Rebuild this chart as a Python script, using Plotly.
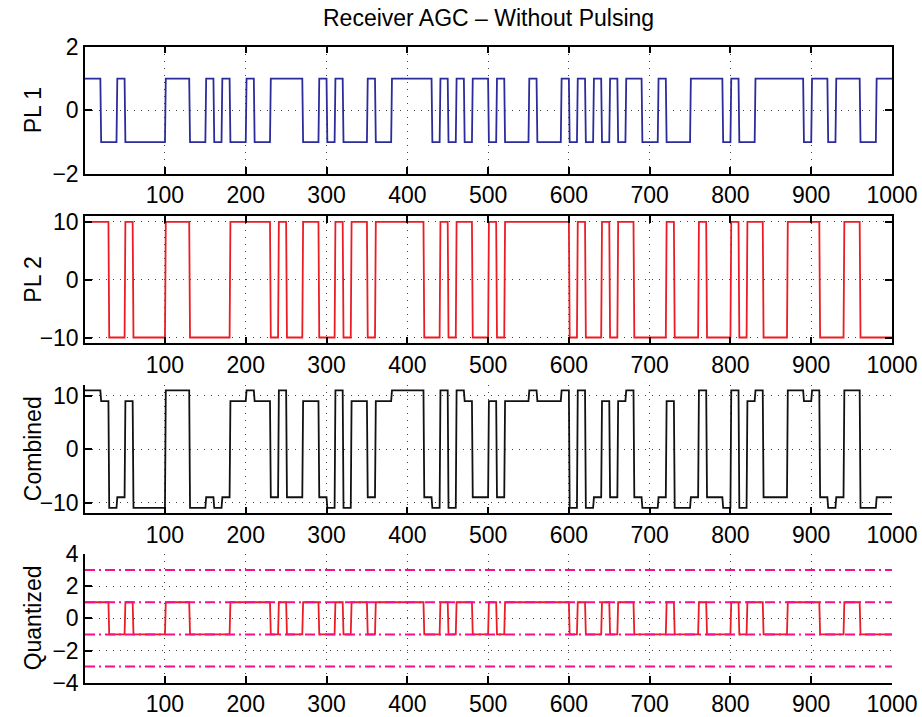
import numpy as np
import plotly.graph_objects as go

# ---- data: one value per symbol, 10 samples per symbol, 100 symbols ----
SAMPLES_PER_SYMBOL = 10

pl1_symbols = [
    1, 1, -1, -1, 1, -1, -1, -1, -1, -1,
    1, 1, 1, -1, -1, 1, -1, 1, -1, -1,
    1, -1, -1, 1, 1, 1, 1, -1, -1, 1,
    -1, 1, -1, -1, -1, 1, -1, -1, 1, 1,
    1, 1, 1, -1, 1, -1, 1, -1, 1, 1,
    -1, 1, -1, -1, -1, 1, -1, -1, -1, 1,
    -1, 1, -1, 1, -1, 1, -1, 1, 1, -1,
    -1, 1, -1, -1, -1, 1, 1, 1, 1, -1,
    1, -1, -1, 1, 1, 1, 1, 1, 1, -1,
    1, 1, -1, 1, 1, 1, -1, -1, 1, 1,
]

pl2_symbols = [
    10, 10, 10, -10, -10, 10, -10, -10, -10, -10,
    10, 10, 10, -10, -10, -10, -10, -10, 10, 10,
    10, 10, 10, -10, 10, -10, -10, 10, 10, -10,
    -10, 10, -10, 10, 10, -10, 10, 10, 10, 10,
    10, 10, -10, -10, 10, -10, 10, 10, -10, -10,
    10, -10, 10, 10, 10, 10, 10, 10, 10, 10,
    -10, 10, -10, -10, 10, -10, 10, 10, -10, -10,
    -10, -10, 10, -10, -10, -10, 10, -10, -10, -10,
    10, -10, 10, 10, -10, -10, -10, 10, 10, 10,
    10, -10, -10, -10, 10, 10, -10, -10, -10, -10,
]

combined_symbols = [
    11, 11, 9, -11, -9, 9, -11, -11, -11, -11,
    11, 11, 11, -11, -11, -9, -11, -9, 9, 9,
    11, 9, 9, -9, 11, -9, -9, 9, 9, -9,
    -11, 11, -11, 9, 9, -9, 9, 9, 11, 11,
    11, 11, -9, -11, 11, -11, 11, 9, -9, -9,
    9, -9, 9, 9, 9, 11, 9, 9, 9, 11,
    -11, 11, -11, -9, 9, -9, 9, 11, -9, -11,
    -11, -9, 9, -11, -11, -9, 11, -9, -9, -11,
    11, -11, 9, 11, -9, -9, -9, 11, 11, 9,
    11, -9, -11, -9, 11, 11, -11, -11, -9, -9,
]

quantized_symbols = [
    1, 1, 1, -1, -1, 1, -1, -1, -1, -1,
    1, 1, 1, -1, -1, -1, -1, -1, 1, 1,
    1, 1, 1, -1, 1, -1, -1, 1, 1, -1,
    -1, 1, -1, 1, 1, -1, 1, 1, 1, 1,
    1, 1, -1, -1, 1, -1, 1, 1, -1, -1,
    1, -1, 1, 1, 1, 1, 1, 1, 1, 1,
    -1, 1, -1, -1, 1, -1, 1, 1, -1, -1,
    -1, -1, 1, -1, -1, -1, 1, -1, -1, -1,
    1, -1, 1, 1, -1, -1, -1, 1, 1, 1,
    1, -1, -1, -1, 1, 1, -1, -1, -1, -1,
]

threshold_levels = [3, 1, -1, -3]
x_tick_values = [100, 200, 300, 400, 500, 600, 700, 800, 900, 1000]
x_range = [1, 1000]

# ---- sample axis ----
n_samples = len(pl1_symbols) * SAMPLES_PER_SYMBOL
x = np.arange(1, n_samples + 1)


def expand(symbols):
    return np.repeat(np.asarray(symbols, dtype=float), SAMPLES_PER_SYMBOL)


FONT = "Liberation Sans, Arial, Helvetica, sans-serif"
FS = 23
W, H = 922, 717

# panel geometry in pixels (left, right, top, bottom)
PX_L, PX_R = 85, 892
panels = [
    dict(top=46.7, bot=174.0, yrange=[-2, 2], yticks=[-2, 0, 2], box=True, label="PL 1"),
    dict(top=216.0, bot=343.3, yrange=[-11, 11], yticks=[-10, 0, 10], box=True, label="PL 2"),
    dict(top=385.0, bot=513.3, yrange=[-12, 12], yticks=[-10, 0, 10], box=False, label="Combined"),
    dict(top=554.0, bot=682.7, yrange=[-4, 4], yticks=[-4, -2, 0, 2, 4], box=False, label="Quantized"),
]

fig = go.Figure()

series = [
    (expand(pl1_symbols), "#2B2B9C"),
    (expand(pl2_symbols), "#EC1C24"),
    (expand(combined_symbols), "#111111"),
    (expand(quantized_symbols), "#EC1C24"),
]

for i, (y, color) in enumerate(series):
    k = "" if i == 0 else str(i + 1)
    fig.add_trace(go.Scatter(
        x=x, y=y, mode="lines",
        line=dict(color=color, width=1.8),
        xaxis="x" + k, yaxis="y" + k,
        showlegend=False, hoverinfo="skip",
    ))

# quantizer decision levels on the last panel
for lvl in threshold_levels:
    fig.add_trace(go.Scatter(
        x=[x_range[0], x_range[1]], y=[lvl, lvl], mode="lines",
        line=dict(color="#FF0A8C", width=2, dash="10px,4px,2px,4px"),
        xaxis="x4", yaxis="y4", showlegend=False, hoverinfo="skip",
    ))

layout = dict(
    width=W, height=H,
    margin=dict(l=0, r=0, t=0, b=0),
    paper_bgcolor="white", plot_bgcolor="white",
    font=dict(family=FONT, size=FS, color="black"),
    showlegend=False,
)

annotations = []
for i, p in enumerate(panels):
    k = "" if i == 0 else str(i + 1)
    ydom = [1 - p["bot"] / H, 1 - p["top"] / H]
    xdom = [PX_L / W, PX_R / W]
    mirror = "ticks" if p["box"] else False
    layout["xaxis" + k] = dict(
        domain=xdom, anchor="y" + k, range=x_range, automargin=False,
        tickvals=x_tick_values, ticks="inside", ticklen=7, tickwidth=1.5,
        tickcolor="black", showline=True, linecolor="black", linewidth=1.5,
        mirror=mirror, showgrid=True, gridcolor="#444444", gridwidth=1,
        griddash="1px,6px", zeroline=False,
        tickfont=dict(family=FONT, size=FS, color="black"),
    )
    layout["yaxis" + k] = dict(
        domain=ydom, anchor="x" + k, range=p["yrange"], automargin=False,
        tickvals=p["yticks"], ticks="inside", ticklen=7, tickwidth=1.5,
        tickcolor="black", showline=True, linecolor="black", linewidth=1.5,
        mirror=mirror, showgrid=True, gridcolor="#444444", gridwidth=1,
        griddash="1px,6px", zeroline=False,
        tickfont=dict(family=FONT, size=FS, color="black"),
    )
    annotations.append(dict(
        text=p["label"], textangle=-90, showarrow=False,
        xref="paper", yref="paper", x=33 / W, y=(ydom[0] + ydom[1]) / 2,
        xanchor="center", yanchor="middle",
        font=dict(family=FONT, size=FS, color="black"),
    ))

annotations.append(dict(
    text="Receiver AGC \u2013 Without Pulsing", showarrow=False,
    xref="paper", yref="paper", x=(PX_L + PX_R) / 2 / W, y=1 - 18 / H,
    xanchor="center", yanchor="middle",
    font=dict(family=FONT, size=FS, color="black"),
))
layout["annotations"] = annotations

fig.update_layout(**layout)
fig.write_html("out.html")
